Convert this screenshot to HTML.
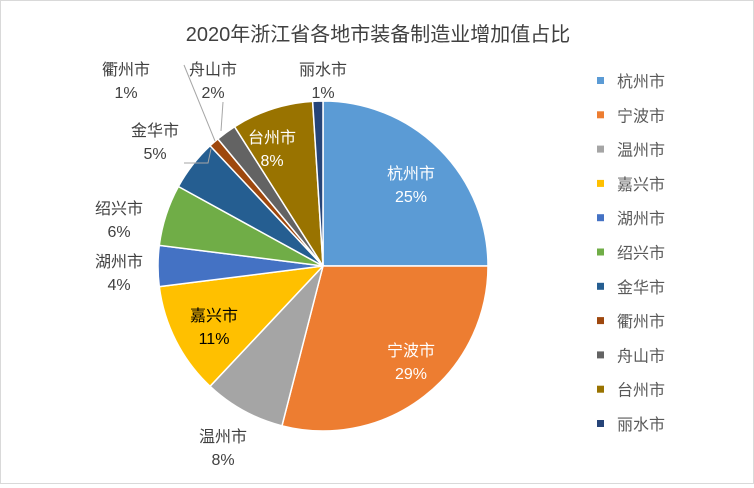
<!DOCTYPE html>
<html><head><meta charset="utf-8">
<style>
body{margin:0;background:#fff;}
#chart{position:relative;width:752px;height:482px;border:1px solid #d9d9d9;background:#fff;font-family:"Liberation Sans","Noto Sans CJK SC",sans-serif;}
svg text{font-family:"Liberation Sans","Noto Sans CJK SC",sans-serif;}
</style></head>
<body>
<div id="chart">
<svg id="svg" width="752" height="482">
<text x="377" y="40" text-anchor="middle" font-size="20" fill="#404040">2020年浙江省各地市装备制造业增加值占比</text>
</svg>
</div>
<script>
const categories=["杭州市","宁波市","温州市","嘉兴市","湖州市","绍兴市","金华市","衢州市","舟山市","台州市","丽水市"];
const values=[25,29,8,11,4,6,5,1,2,8,1];
const colors=["#5B9BD5","#ED7D31","#A5A5A5","#FFC000","#4472C4","#70AD47","#255E91","#9E480E","#636363","#997300","#264478"];
const labelPos=[[410,178,"in","#fff"],[410,355,"in","#fff"],[222,441,"out","#404040"],[213,320,"in","#000"],[118,266,"out","#404040"],[118,213,"out","#404040"],[154,135,"out","#404040"],[125,74,"out","#404040"],[212,74,"out","#404040"],[271,142,"in","#fff"],[322,74,"out","#404040"]];
const ns="http://www.w3.org/2000/svg";
const svg=document.getElementById('svg');
const cx=322,cy=265,r=165;
const total=values.reduce((a,b)=>a+b,0);
let a0=0;
function pt(a,rr){return [cx+rr*Math.sin(a),cy-rr*Math.cos(a)];}
values.forEach((v,i)=>{
  const a1=a0+v/total*2*Math.PI;
  const p0=pt(a0,r),p1=pt(a1,r);
  const large=(a1-a0)>Math.PI?1:0;
  const p=document.createElementNS(ns,'path');
  p.setAttribute('d',`M${cx},${cy}L${p0[0]},${p0[1]}A${r},${r} 0 ${large} 1 ${p1[0]},${p1[1]}Z`);
  p.setAttribute('fill',colors[i]);p.setAttribute('stroke','#fff');p.setAttribute('stroke-width','1.5');
  
  
  svg.appendChild(p);
  a0=a1;
});
[[[183,162],[207,162],[210,148]],[[183,64],[214,140]],[[222,101],[220,130]]].forEach(l=>{
  const pl=document.createElementNS(ns,'polyline');
  pl.setAttribute('points',l.map(q=>q.join(',')).join(' '));
  pl.setAttribute('fill','none');pl.setAttribute('stroke','#a6a6a6');
  
  
  svg.appendChild(pl);
});
values.forEach((v,i)=>{
  const [x,y,,c]=labelPos[i];
  const t=document.createElementNS(ns,'text');
  t.setAttribute('x',x);t.setAttribute('text-anchor','middle');t.setAttribute('font-size','16');t.setAttribute('fill',c);
  
  
  const s1=document.createElementNS(ns,'tspan');s1.setAttribute('x',x);s1.setAttribute('y',y);s1.textContent=categories[i];
  const s2=document.createElementNS(ns,'tspan');s2.setAttribute('x',x);s2.setAttribute('y',y+23);s2.textContent=v+'%';
  t.appendChild(s1);t.appendChild(s2);svg.appendChild(t);
});
categories.forEach((c,i)=>{
  const y=80+i*34.3;
  const g=document.createElementNS(ns,'g');
  
  
  const rc=document.createElementNS(ns,'rect');
  rc.setAttribute('x',596);rc.setAttribute('y',y-4);rc.setAttribute('width',7);rc.setAttribute('height',7);rc.setAttribute('fill',colors[i]);
  const t=document.createElementNS(ns,'text');
  t.setAttribute('x',616);t.setAttribute('y',y+6);t.setAttribute('font-size','16');t.setAttribute('fill','#595959');t.textContent=c;
  g.appendChild(rc);g.appendChild(t);svg.appendChild(g);
});
</script>
</body></html>
